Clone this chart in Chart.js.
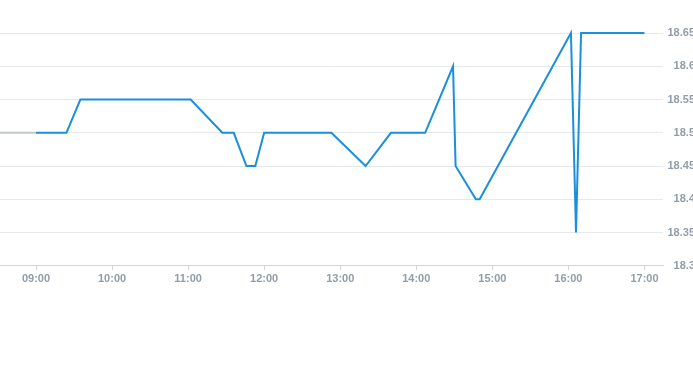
<!DOCTYPE html>
<html>
<head>
<meta charset="utf-8">
<script src="https://cdn.jsdelivr.net/npm/chart.js@4/dist/chart.umd.min.js"></script>
<style>
  html, body { margin: 0; padding: 0; overflow: hidden; background: #fff; }
  #wrap { position: relative; width: 695px; height: 365px; }
</style>
</head>
<body>
<div id="wrap"><canvas id="price"></canvas></div>
<script>
// intraday price points (vertices)
const times = [
  '09:00', '09:24', '09:35', '11:02', '11:27', '11:36', '11:46', '11:53',
  '12:00', '12:53', '13:20', '13:40', '14:07', '14:29', '14:31', '14:47',
  '14:50', '16:02', '16:06', '16:10', '17:00'
];
const prices = [
  18.5, 18.5, 18.55, 18.55, 18.5, 18.5, 18.45, 18.45,
  18.5, 18.5, 18.45, 18.5, 18.5, 18.6, 18.45, 18.4,
  18.4, 18.65, 18.35, 18.65, 18.65
];

// previous close, drawn grey up to the open
const prevCloseTimes = ['08:31', '09:00'];
const prevClose = [18.5, 18.5];

const hourTicks = ['09:00', '10:00', '11:00', '12:00', '13:00', '14:00', '15:00', '16:00', '17:00'];
const priceTicks = [18.3, 18.35, 18.4, 18.45, 18.5, 18.55, 18.6, 18.65];

const toMin = s => { const p = s.split(':'); return +p[0] * 60 + +p[1]; };
const fmt = m => {
  const h = Math.floor(m / 60), mm = Math.round(m % 60);
  return String(h).padStart(2, '0') + ':' + String(mm).padStart(2, '0');
};

const tickFont = { family: 'Liberation Sans, Arial, sans-serif', size: 11, weight: 'bold' };
const tickColor = '#929daa';

const data = {
  datasets: [{
    label: 'Previous close',
    data: prevCloseTimes.map((t, i) => ({ x: toMin(t), y: prevClose[i] })),
    borderColor: '#c2c7cd',
    borderWidth: 2,
    clip: false
  }, {
    label: 'Price',
    data: times.map((t, i) => ({ x: toMin(t), y: prices[i] })),
    borderColor: '#1a8fdb',
    borderWidth: 2,
    clip: false
  }]
};

const config = {
  type: 'line',
  data: data,
  options: {
    responsive: true,
    maintainAspectRatio: false,
    animation: false,
    layout: { padding: { top: 33, bottom: 76, left: 0, right: 0 } },
    elements: { point: { radius: 0 }, line: { tension: 0 } },
    plugins: { legend: { display: false }, tooltip: { enabled: false } },
    scales: {
      x: {
        type: 'linear',
        min: 511.6,
        max: 1035,
        afterBuildTicks: axis => { axis.ticks = hourTicks.map(t => ({ value: toMin(t) })); },
        grid: { drawOnChartArea: false, tickLength: 4, color: '#cfd5dc' },
        border: { color: '#cfd5dc' },
        ticks: {
          font: tickFont,
          color: tickColor,
          maxRotation: 0,
          padding: 3,
          callback: v => fmt(v)
        }
      },
      y: {
        position: 'right',
        min: 18.3,
        max: 18.65,
        afterBuildTicks: axis => { axis.ticks = priceTicks.map(v => ({ value: v })); },
        grid: { drawTicks: false, color: '#e5e8ec' },
        border: { display: false },
        ticks: {
          font: tickFont,
          color: tickColor,
          padding: 2,
          crossAlign: 'far',
          callback: v => String(Number(v.toFixed(2)))
        }
      }
    }
  }
};

const priceChart = new Chart(document.getElementById('price'), config);
</script>
</body>
</html>
